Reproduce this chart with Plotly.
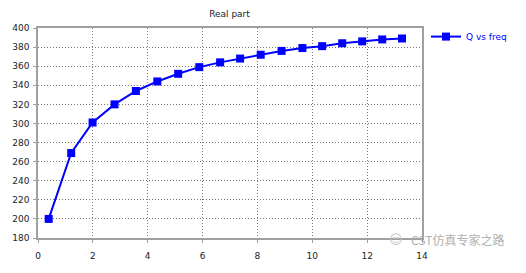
import plotly.graph_objects as go

freq = [0.39, 1.21, 1.99, 2.79, 3.57, 4.35, 5.11, 5.88, 6.64, 7.37, 8.12, 8.88, 9.64, 10.36, 11.09, 11.82, 12.55, 13.27]
q_vals = [200, 269, 301, 320, 334, 344, 352, 359, 364, 368, 372, 376, 379, 381, 384, 386, 388, 389]
series_name = "Q vs freq"
title_text = "Real part"
watermark = "CST仿真专家之路"

W, H = 526, 273
FONT = "DejaVu Sans"
L, R, T, B = 37, 104, 28, 25
PW, PH = W - L - R, H - T - B

fig = go.Figure()
fig.add_trace(go.Scatter(
    x=freq, y=q_vals, mode="lines+markers", name=series_name,
    line=dict(color="#0000ff", width=2),
    marker=dict(symbol="square", size=8, color="#0000ff"),
))

axis_common = dict(
    showline=True, mirror=True, linecolor="#a0a0a0", linewidth=1.5,
    showgrid=True, gridcolor="#7a7a7a", griddash="1px,2px", gridwidth=1,
    ticks="outside", ticklen=3, tickcolor="#a0a0a0",
    zeroline=False, tickfont=dict(family=FONT, size=9, color="#222222"),
)

fig.update_layout(
    width=W, height=H,
    margin=dict(l=L, r=R, t=T, b=B),
    paper_bgcolor="white", plot_bgcolor="white",
    title=dict(text=title_text, x=(L + L + PW) / 2 / W, xanchor="center",
               y=1 - 14 / H, yanchor="middle",
               font=dict(family=FONT, size=9, color="#222222")),
    xaxis=dict(range=[0, 14], dtick=2, tick0=0, ticklabelstandoff=5, **axis_common),
    yaxis=dict(range=[180, 400], dtick=20, tick0=180, ticklabelstandoff=2, **axis_common),
    showlegend=True,
    legend=dict(x=(426 - L) / PW, xanchor="left", y=1 - (37 - T) / PH, yanchor="middle",
                font=dict(family=FONT, size=9, color="#0000ff"),
                bgcolor="rgba(0,0,0,0)", itemwidth=30),
)

fig.add_annotation(text=watermark, xref="paper", yref="paper",
                   x=(409 - L) / PW, y=(T + PH - 250) / PH, xanchor="left", yanchor="middle",
                   showarrow=False, font=dict(family="Noto Sans CJK SC", size=12, color="#b0b0b0"))
fig.add_annotation(text="☺", xref="paper", yref="paper",
                   x=(396 - L) / PW, y=(T + PH - 250) / PH, xanchor="center", yanchor="middle",
                   showarrow=False, font=dict(family=FONT, size=13, color="#c8c8c8"))

fig.write_html("out.html")
